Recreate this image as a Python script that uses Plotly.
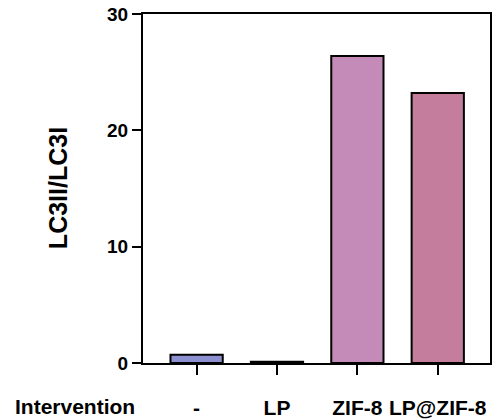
import plotly.graph_objects as go

categories = ["-", "LP", "ZIF-8", "LP@ZIF-8"]
values = [0.7, 0.1, 26.4, 23.2]
colors = ["#8c8fd0", "#a98cc6", "#c48ab8", "#c47d9c"]
y_ticks = [0, 10, 20, 30]

FONT = "Liberation Sans"

fig = go.Figure(go.Bar(
    x=categories, y=values, width=0.65,
    marker=dict(color=colors, line=dict(color="black", width=2)),
))

fig.update_layout(
    width=493, height=420,
    margin=dict(l=143, r=1, t=14, b=57),
    plot_bgcolor="white", paper_bgcolor="white",
    showlegend=False,
    font=dict(family=FONT, color="black"),
)
fig.update_xaxes(
    range=[-0.667, 3.65], showline=True, linecolor="black", linewidth=2,
    mirror=True, ticks="outside", ticklen=10, tickwidth=2, tickcolor="black",
    tickfont=dict(family=FONT, size=21, weight="bold"), ticklabelstandoff=15,
    showgrid=False, zeroline=False,
)
fig.update_yaxes(
    range=[0, 30], tickvals=y_ticks, showline=True, linecolor="black", linewidth=2,
    mirror=True, ticks="outside", ticklen=9, tickwidth=2, tickcolor="black",
    tickfont=dict(family=FONT, size=19, weight="bold"),
    showgrid=False, zeroline=False,
)
fig.add_annotation(text="LC3II/LC3I", textangle=-90, xref="paper", yref="paper",
                   x=-0.246, y=0.5, xanchor="center", yanchor="middle", showarrow=False,
                   font=dict(family=FONT, size=25, weight="bold"))
fig.add_annotation(text="Intervention", xref="paper", yref="paper",
                   x=-0.375, y=-0.125, xanchor="left", yanchor="middle", showarrow=False,
                   font=dict(family=FONT, size=21, weight="bold"))

fig.write_html("out.html", config={"displayModeBar": False})

with open("out.html", "r", encoding="utf-8") as f:
    html = f.read()
html = html.replace("<body>", '<body style="margin:0;padding:0;">', 1)
with open("out.html", "w", encoding="utf-8") as f:
    f.write(html)
